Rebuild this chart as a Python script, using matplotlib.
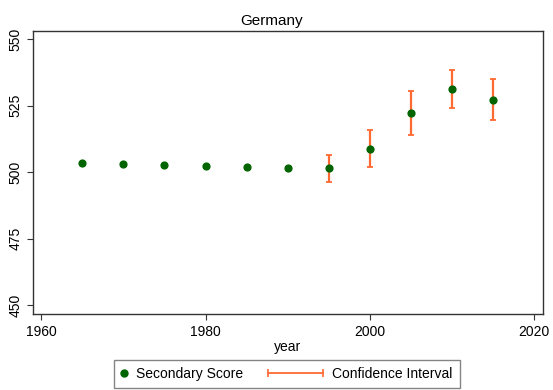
import matplotlib
matplotlib.use("Agg")
from matplotlib import pyplot as plt
from matplotlib.lines import Line2D
from matplotlib.legend_handler import HandlerBase

plt.rcParams['font.family'] = ['Liberation Sans', 'DejaVu Sans']

# values
years = [1965, 1970, 1975, 1980, 1985, 1990, 1995, 2000, 2005, 2010, 2015]
score = [503.5, 503.1, 502.7, 502.4, 502.1, 501.7, 501.5, 508.9, 522.4, 531.3, 527.2]

ci_years = [1995, 2000, 2005, 2010, 2015]
ci_low = [496.5, 502.0, 514.0, 524.2, 519.6]
ci_high = [506.4, 515.8, 530.7, 538.6, 534.9]

dot_color = '#006400'
ci_color = '#ff6a33'


class CapLineHandler(HandlerBase):
    # horizontal line with end caps, reaching left past the small handle box
    def create_artists(self, legend, orig_handle, xdescent, ydescent, width, height, fontsize, trans):
        y = height / 2 - ydescent
        x0 = width - xdescent - 40
        x1 = width - xdescent
        line = Line2D([x0, x1], [y, y], color=ci_color, lw=1.3, transform=trans)
        caps = Line2D([x0, x1], [y, y], color=ci_color, ls='none', marker='|',
                      markersize=6, markeredgewidth=1.2, transform=trans)
        return [line, caps]


class DotHandler(HandlerBase):
    def create_artists(self, legend, orig_handle, xdescent, ydescent, width, height, fontsize, trans):
        y = height / 2 - ydescent
        x = width / 2 - xdescent
        dot = Line2D([x], [y], color=dot_color, ls='none', marker='o',
                     markersize=5, transform=trans)
        return [dot]


fig = plt.figure(figsize=(5.53, 3.9), dpi=100)
ax = fig.add_axes([0.0591, 0.1941, 0.9228, 0.7264])

ci_mid = [(lo + hi) / 2 for lo, hi in zip(ci_low, ci_high)]
ci_err = [(hi - lo) / 2 for lo, hi in zip(ci_low, ci_high)]
ax.errorbar(ci_years, ci_mid, yerr=ci_err, fmt='none', ecolor=ci_color,
            elinewidth=1.6, capsize=2.4, capthick=1.3, zorder=2)
ax.scatter(years, score, s=24, color=dot_color, zorder=3)

ax.set_xlim(1958.95, 2021.1)
ax.set_ylim(446.6, 553.1)
ax.set_xticks([1960, 1980, 2000, 2020])
ax.set_yticks([450, 475, 500, 525, 550])
ax.set_yticklabels(['450', '475', '500', '525', '550'], rotation=90, va='center')
ax.tick_params(labelsize=10, length=4, width=0.8, color='#333333')

for side in ax.spines.values():
    side.set_color('#333333')
    side.set_linewidth(1.0)

ax.set_title('Germany', fontsize=11, pad=4, x=0.469)
ax.set_xlabel('year', fontsize=10, labelpad=1)

dot_proxy = Line2D([], [])
ci_proxy = Line2D([], [], ls='--')
leg = fig.legend([dot_proxy, ci_proxy], ['Secondary Score', 'Confidence Interval'],
                 handler_map={dot_proxy: DotHandler(), ci_proxy: CapLineHandler()},
                 loc='lower center', bbox_to_anchor=(0.519, 0.005), borderaxespad=0,
                 ncol=2, fontsize=10, frameon=True, fancybox=False, edgecolor='#666666',
                 handlelength=0.45, handletextpad=0.65, columnspacing=5.3, borderpad=0.5)
leg.get_frame().set_linewidth(1.0)

fig.savefig('out.png', dpi=100)
